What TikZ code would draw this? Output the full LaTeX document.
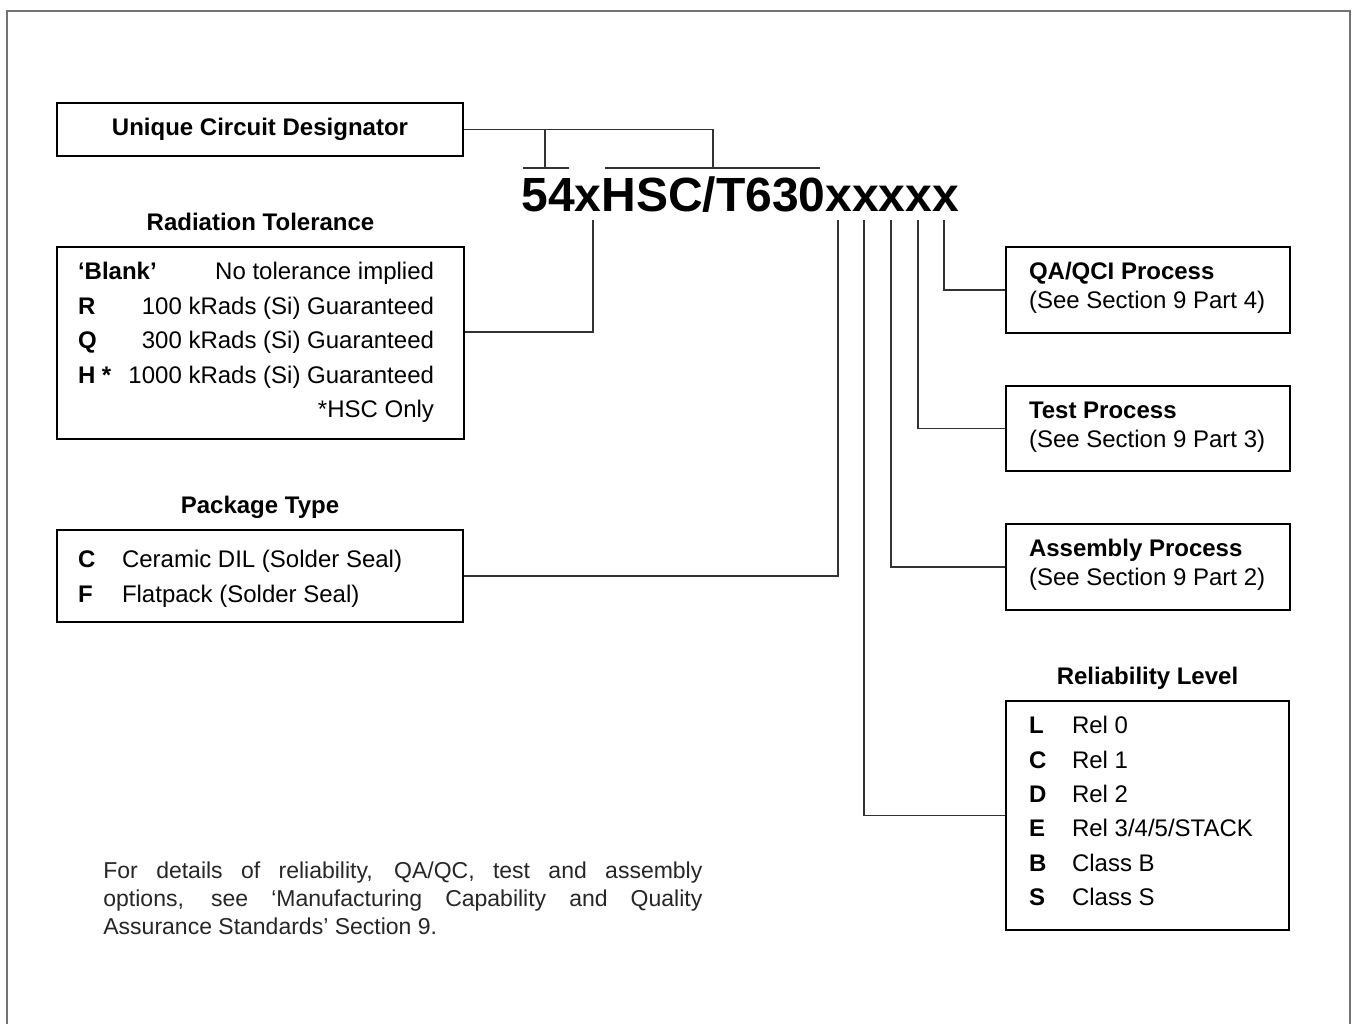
\documentclass[tikz,border=0pt]{standalone}
\usepackage{fontspec}
\setmainfont{Liberation Sans}
\newfontfamily\notefont{Liberation Sans}

\begin{document}
\begin{tikzpicture}[x=0.5pt,y=-0.5pt,
  box/.style={draw,line width=1.4pt,inner sep=0pt},
  link/.style={draw=black!80,line width=0.6pt},
  frame/.style={draw=black!55,line width=0.6pt},
  head/.style={font=\fontsize{12}{14}\selectfont\bfseries,inner sep=0pt,anchor=base},
  key/.style={font=\fontsize{12}{14}\selectfont\bfseries,inner sep=0pt,anchor=base west},
  txt/.style={font=\fontsize{12}{14}\selectfont,inner sep=0pt,anchor=base west},
  txtr/.style={txt,anchor=base east},
  note/.style={font=\notefont\fontsize{11.5}{14}\selectfont,text=black!85,inner sep=0pt,anchor=base west}]
\def\rowsep{34.5}
\def\relsep{34.4}

% cadre extérieur
\useasboundingbox (0,0) rectangle (1354,1023);
\draw[frame] (7,1040) |- (1350,11) -- (1350,1040);

% désignation
\node[anchor=base west,inner sep=0pt,font=\fontsize{24}{28}\selectfont\bfseries] (code) at (521,211) {54xHSC/T630xxxxx};

% boîtes
\node[box,minimum width=203pt,minimum height=26.5pt,font=\fontsize{12}{14}\selectfont\bfseries] (ucd) at (260,129.5) {Unique Circuit Designator};
\node[box,minimum width=203.5pt,minimum height=96pt] (rad) at (260.5,343) {};
\node[box,minimum width=203pt,minimum height=46pt] (pkg) at (260,576) {};
\node[box,minimum width=142pt,minimum height=43pt] (qa) at (1148,290) {};
\node[box,minimum width=142pt,minimum height=42.5pt] (test) at (1148,428.5) {};
\node[box,minimum width=142pt,minimum height=43pt] (asm) at (1148,567) {};
\node[box,minimum width=141.5pt,minimum height=114.5pt] (rel) at (1147.5,815.5) {};

% titres
\node[head] (radT) at ([yshift=7.5pt]rad.north) {Radiation Tolerance};
\node[head] (pkgT) at ([yshift=7.5pt]pkg.north) {Package Type};
\node[head] (relT) at ([yshift=7.5pt]rel.north) {Reliability Level};

% tenue aux radiations
\foreach \k/\v [count=\i from 0] in {{‘Blank’}/No tolerance implied, R/100 kRads (Si) Guaranteed, Q/300 kRads (Si) Guaranteed, {H *}/1000 kRads (Si) Guaranteed} {
  \node[key] (radK\i) at ([shift={(22,34+\i*\rowsep)}]rad.north west) {\k};
  \node[txtr] (radV\i) at ([shift={(-31,34+\i*\rowsep)}]rad.north east) {\v};
}
\node[txtr] (radN) at ([shift={(-31,34+4*\rowsep)}]rad.north east) {*HSC Only};

% boîtier
\foreach \k/\v [count=\i from 0] in {C/Ceramic DIL (Solder Seal), F/Flatpack (Solder Seal)} {
  \node[key] (pkgK\i) at ([shift={(22,39+\i*35)}]pkg.north west) {\k};
  \node[txt] (pkgV\i) at ([shift={(66,39+\i*35)}]pkg.north west) {\v};
}

% niveau de fiabilité
\foreach \k/\v [count=\i from 0] in {L/Rel 0, C/Rel 1, D/Rel 2, E/{Rel 3/4/5/STACK}, B/Class B, S/Class S} {
  \node[key] (relK\i) at ([shift={(24,34+\i*\relsep)}]rel.north west) {\k};
  \node[txt] (relV\i) at ([shift={(67,34+\i*\relsep)}]rel.north west) {\v};
}

% procédés
\foreach \b/\t/\p in {qa/{QA/QCI Process}/4, test/Test Process/3, asm/Assembly Process/2} {
  \node[key] (\b-t) at ([shift={(24,34)}]\b.north west) {\t};
  \node[txt] (\b-s) at ([shift={(24,63)}]\b.north west) {(See Section 9 Part \p)};
}

% points de départ sous les lettres
\coordinate (tapR) at (593,220);
\coordinate (tapP) at (838,220);
\coordinate (tapL) at (864,220);
\coordinate (tapA) at (891,220);
\coordinate (tapT) at (918,220);
\coordinate (tapQ) at (944,220);

\draw[link] (tapR) |- ([yshift=5.5pt]rad.east);
\draw[link] (tapP) |- (pkg.east);
\draw[link] (tapL) |- (rel.west);
\draw[link] (tapA) |- (asm.west);
\draw[link] (tapT) |- (test.west);
\draw[link] (tapQ) |- (qa.west);

% accolade du circuit
\coordinate (b54) at (545,168);
\coordinate (bHSC) at (713,168);
\draw[link] (ucd.east) -| (bHSC);
\draw[link] (b54 |- ucd.east) -- (b54);
\draw[link] (523,168) -- (569,168);
\draw[link] (605,168) -- (820,168);

% note
\node[note] (note1) at (103,878) {\makebox[299.5pt][s]{For details of reliability, QA/QC, test and assembly}};
\node[note] (note2) at (103,906) {\makebox[299.5pt][s]{options, see ‘Manufacturing Capability and Quality}};
\node[note] (note3) at (103,934) {Assurance Standards’ Section 9.};
\end{tikzpicture}
\end{document}
